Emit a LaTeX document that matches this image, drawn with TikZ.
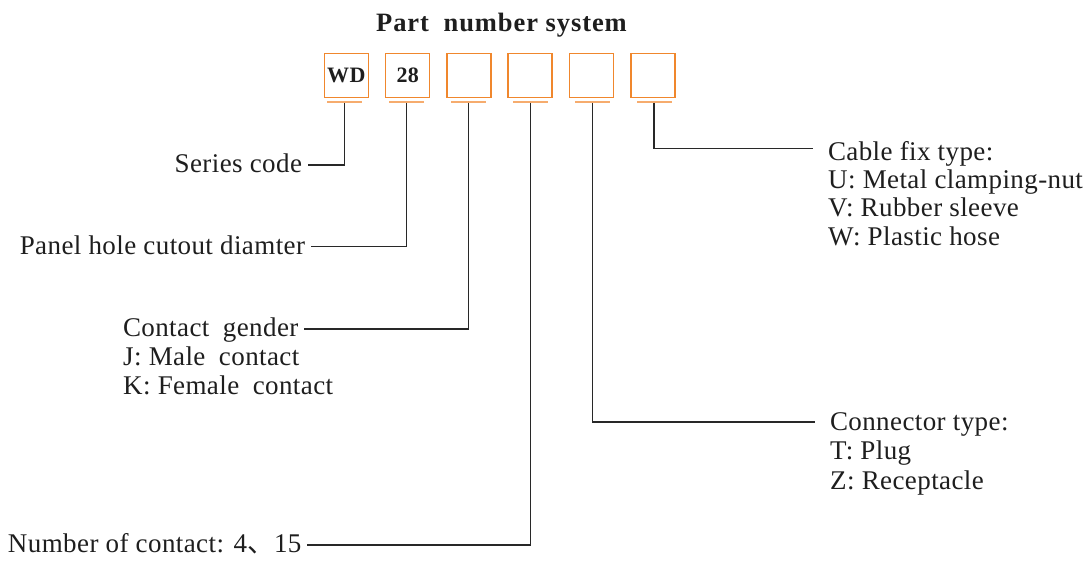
\documentclass[tikz,border=0pt]{standalone}
\usepackage{fontspec}
\setmainfont{Liberation Serif}[LetterSpace=1.5]
\newfontfamily\cjk{Noto Sans CJK SC}
\newcommand\wsp{\hspace{0.5em}}
\definecolor{boxor}{RGB}{240,135,45}
\definecolor{baror}{RGB}{246,172,110}
\definecolor{lnk}{RGB}{40,40,40}
\definecolor{txt}{RGB}{30,30,30}
\tikzset{
  pbox/.style={draw=boxor, line width=1.4pt, minimum size=44pt, inner sep=0pt,
    font=\fontsize{22}{24}\selectfont\bfseries, text=txt},
  pbar/.style={fill=baror, minimum width=35pt, minimum height=2pt, inner sep=0pt},
  lbl/.style={inner sep=0pt, text height=15pt, text depth=0pt,
    font=\fontsize{27}{30}\selectfont, text=txt},
  lleft/.style={lbl, outer xsep=6pt},
  lright/.style={lbl, outer xsep=15pt},
  subl/.style={inner sep=0pt, anchor=base west, font=\fontsize{27}{30}\selectfont, text=txt},
  conn/.style={draw=lnk, line width=1.1pt},
}
\begin{document}
\begin{tikzpicture}[x=1pt,y=-1pt]
\useasboundingbox (0,0) rectangle (1091,562);
% title
\node[inner sep=0pt, anchor=base, font=\fontsize{26.5}{30}\selectfont\bfseries\addfontfeature{LetterSpace=3.5}, text=txt] (title) at (501.5,31.7) {Part\hspace{0.55em}number system};
% boxes
\node[pbox] (b1) at (346.3,75.3) {WD};
\node[pbox] (b2) at (407.7,75.3) {28};
\node[pbox] (b3) at (468.8,75.3) {};
\node[pbox] (b4) at (530.0,75.3) {};
\node[pbox] (b5) at (591.5,75.3) {};
\node[pbox] (b6) at (652.8,75.3) {};
% bars
\node[pbar] (u1) at (344.5,101.7) {};
\node[pbar] (u2) at (406.9,101.7) {};
\node[pbar] (u3) at (468.7,101.7) {};
\node[pbar] (u4) at (530.7,101.7) {};
\node[pbar] (u5) at (592.7,101.7) {};
\node[pbar] (u6) at (654.0,101.7) {};
% left labels
\node[lleft, anchor=east] (series) at (308,165) {Series code};
\node[lleft, anchor=east] (panel) at (311,246.7) {Panel hole cutout diamter};
\node[lleft, anchor=west] (gender) at (117,329) {Contact\wsp gender};
\node[subl] (gj) at (123,365) {J: Male\wsp contact};
\node[subl] (gk) at (123,394) {K: Female\wsp contact};
\node[lleft, anchor=west] (number) at (2,545) {Number of contact: 4{\cjk 、}15\hspace{6pt}};
% right labels
\node[lright, text height=23.4pt, anchor=west] (cable) at (813,148.3) {Cable fix type:};
\node[subl] (cu) at (828,188.3) {U: Metal clamping-nut};
\node[subl] (cv) at (828,216.7) {V: Rubber sleeve};
\node[subl] (cw) at (828,245) {W: Plastic hose};
\node[lright, text height=16pt, anchor=west] (ctype) at (815,422) {Connector type:};
\node[subl] (ct) at (830,459.3) {T: Plug};
\node[subl] (cz) at (830,489.3) {Z: Receptacle};
% connectors
\draw[conn] (u1.south) |- (series.east);
\draw[conn] (u2.south) |- (panel.east);
\draw[conn] (u3.south) |- (gender.east);
\draw[conn] (u4.south) |- (number.east);
\draw[conn] (u5.south) |- (ctype.west);
\draw[conn] (u6.south) |- (cable.west);
\end{tikzpicture}
\end{document}
